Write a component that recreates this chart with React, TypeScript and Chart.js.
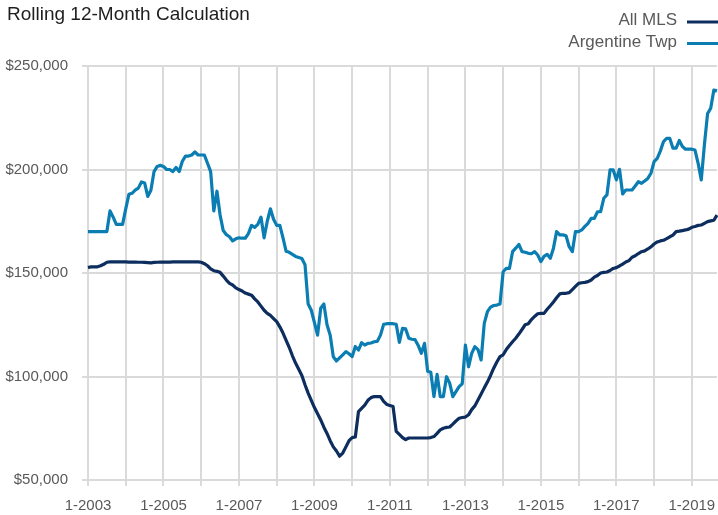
import { useEffect, useRef } from 'react';
import { Chart, registerables } from 'chart.js';

Chart.register(...registerables);

const TITLE = 'Rolling 12-Month Calculation';
const SERIES_NAMES = ['All MLS', 'Argentine Twp'];
const SERIES_COLORS = ['#0c2d5e', '#0a7db2'];

const FIRST_YEAR = 2003;
const LAST_YEAR = 2019;
const LAST_MONTH = 9;

const categories: string[] = [];
for (let y = FIRST_YEAR; y <= LAST_YEAR; y++) {
  for (let m = 1; m <= 12; m++) {
    if (y === LAST_YEAR && m > LAST_MONTH) break;
    categories.push(`${m}-${y}`);
  }
}

const allMLS = [
  // 2003
  152600, 153000, 153000, 153000, 153500, 154200, 155200, 155400, 155400, 155400, 155400, 155400,
  // 2004
  155400, 155300, 155300, 155300, 155200, 155200, 155100, 155000, 154900, 155100, 155200, 155300,
  // 2005
  155300, 155300, 155300, 155400, 155400, 155400, 155400, 155400, 155400, 155400, 155400, 155400,
  // 2006
  155200, 154500, 153500, 152000, 151100, 150800, 150300, 148500, 146600, 145000, 144200, 142800,
  // 2007
  142000, 141300, 140300, 139800, 139300, 137500, 136000, 134000, 132000, 130500, 129500, 128000,
  // 2008
  126500, 124000, 121000, 117500, 114000, 110000, 106500, 103500, 100500, 96000, 92000, 88500,
  // 2009
  85000, 82000, 79000, 75500, 72500, 69000, 66000, 64000, 61500, 63000, 66000, 69000,
  // 2010
  70500, 70800, 83000, 84600, 86200, 88500, 89800, 90300, 90300, 90300, 88000, 86500,
  // 2011
  86000, 85500, 73500, 72000, 70500, 69500, 70300, 70300, 70300, 70300, 70300, 70300,
  // 2012
  70300, 70500, 71000, 72500, 74200, 75000, 75400, 75600, 77000, 78500, 79800, 80200,
  // 2013
  80400, 81500, 84000, 85800, 88600, 91500, 94500, 97300, 100500, 104000, 107000, 109600,
  // 2014
  110500, 113000, 115000, 116800, 118500, 120500, 122700, 125000, 125500, 127500, 129000, 130300,
  // 2015
  130500, 130500, 132500, 134200, 136000, 138000, 139900, 140200, 140200, 140500, 142000, 143500,
  // 2016
  145000, 145300, 145500, 145800, 146600, 148000, 148800, 150000, 150300, 150500, 151200, 152200,
  // 2017
  152600, 153400, 154300, 155300, 156000, 157600, 158300, 159400, 160300, 160700, 161600, 162600,
  // 2018
  164000, 165000, 165500, 165800, 166600, 167500, 168300, 170000, 170200, 170500, 170800, 171200,
  // 2019
  172100, 172500, 173000, 173200, 174000, 174800, 175200, 175500, 178000,
];

const argentineTwp = [
  // 2003
  170000, 170000, 170000, 170000, 170000, 170000, 170000, 180000, 177000, 173500, 173500, 173500,
  // 2004
  181000, 188000, 188500, 190000, 191000, 194000, 193500, 187000, 190000, 199000, 201500, 202000,
  // 2005
  201500, 200000, 200000, 199000, 201000, 199000, 204000, 206500, 206500, 207000, 208500, 207000,
  // 2006
  207000, 207000, 203000, 199000, 180000, 189500, 178000, 170500, 168500, 167500, 165500, 166500,
  // 2007
  167000, 166800, 166800, 169000, 173000, 172000, 173500, 177000, 167000, 175000, 181000, 176000,
  // 2008
  173000, 173000, 167000, 160500, 160000, 159000, 158000, 157500, 157000, 154000, 135000, 132000,
  // 2009
  126000, 120000, 133000, 135000, 125000, 120000, 109500, 107500, 109000, 110500, 112000, 111000,
  // 2010
  109600, 114500, 112800, 116300, 115200, 116000, 116200, 116800, 117000, 120000, 125200, 125500,
  // 2011
  125500, 125500, 125200, 116500, 123300, 123000, 118500, 118000, 117800, 115000, 111200, 116000,
  // 2012
  102500, 102000, 90300, 101000, 90300, 90300, 99900, 96800, 90300, 92700, 95100, 96500,
  // 2013
  115200, 104700, 111200, 114400, 113000, 108000, 125700, 131300, 133500, 134300, 134500, 135000,
  // 2014
  150600, 152200, 152200, 160300, 162000, 163800, 160300, 160000, 159500, 159300, 160300, 158700,
  // 2015
  155500, 158000, 159000, 157100, 162000, 170000, 168400, 168400, 168000, 162700, 160300, 170000,
  // 2016
  170000, 170800, 172500, 174000, 176400, 176400, 179600, 179600, 186100, 187700, 199800, 199800,
  // 2017
  195000, 200100, 188200, 190100, 190100, 190100, 192000, 194100, 193300, 194500, 195700, 198200,
  // 2018
  203800, 205400, 209000, 213500, 215100, 215000, 210300, 210300, 214000, 211100, 209800, 209800,
  // 2019
  209800, 209400, 203000, 195000, 212000, 227000, 229600, 238400, 238000,
];

const Y_MIN = 50000;
const Y_MAX = 250000;
const Y_STEP = 50000;

const FONT = "'Liberation Sans', Arial, sans-serif";
const GRID = '#dadada';
const TEXT = '#595959';

const overlayPlugin = {
  id: 'titleLegend',
  afterDraw(chart: any) {
    const ctx = chart.ctx as CanvasRenderingContext2D;
    ctx.save();
    ctx.fillStyle = '#1e1e1e';
    ctx.font = `19px ${FONT}`;
    ctx.textAlign = 'left';
    ctx.textBaseline = 'alphabetic';
    ctx.fillText(TITLE, 7, 19.5);

    ctx.font = `17px ${FONT}`;
    ctx.textAlign = 'right';
    ctx.textBaseline = 'middle';
    const rows = [20.5, 42];
    SERIES_NAMES.forEach((name, i) => {
      ctx.fillStyle = TEXT;
      ctx.fillText(name, 677, rows[i]);
      ctx.strokeStyle = SERIES_COLORS[i];
      ctx.lineWidth = 3;
      ctx.beginPath();
      ctx.moveTo(687, rows[i] + 1.5);
      ctx.lineTo(718, rows[i] + 1.5);
      ctx.stroke();
    });
    ctx.restore();
  },
};

export default function App() {
  const ref = useRef<HTMLCanvasElement | null>(null);

  useEffect(() => {
    document.body.style.margin = '0';
    const canvas = ref.current;
    if (!canvas) return;
    const chart = new Chart(canvas, {
      type: 'line',
      data: {
        labels: categories,
        datasets: [
          {
            label: SERIES_NAMES[1],
            data: argentineTwp,
            borderColor: SERIES_COLORS[1],
            backgroundColor: SERIES_COLORS[1],
            borderWidth: 3.2,
            pointRadius: 0,
            tension: 0,
            borderJoinStyle: 'round',
          },
          {
            label: SERIES_NAMES[0],
            data: allMLS,
            borderColor: SERIES_COLORS[0],
            backgroundColor: SERIES_COLORS[0],
            borderWidth: 3.2,
            pointRadius: 0,
            tension: 0,
            borderJoinStyle: 'round',
          },
        ],
      },
      options: {
        responsive: false,
        animation: false,
        layout: { padding: { top: 66, left: 0, right: 1, bottom: 0 } },
        plugins: {
          legend: { display: false },
          title: { display: false },
          tooltip: { enabled: false },
        },
        scales: {
          x: {
            type: 'category',
            afterFit: (scale: any) => {
              scale.height = 35;
              scale.paddingLeft = 0;
              scale.paddingRight = 0;
            },
            grid: {
              color: (c: any) => (c.index % 12 === 0 ? GRID : 'rgba(0,0,0,0)'),
              lineWidth: 2,
              tickLength: 6,
            },
            border: { display: true, color: GRID, width: 2 },
            ticks: {
              autoSkip: false,
              maxRotation: 0,
              minRotation: 0,
              padding: 11,
              color: TEXT,
              font: { family: FONT, size: 15 },
              callback: (_v: any, i: number) => (i % 24 === 0 ? categories[i] : ''),
            },
          },
          y: {
            min: Y_MIN,
            max: Y_MAX,
            afterFit: (scale: any) => {
              scale.width = 88;
              scale.paddingTop = 0;
              scale.paddingBottom = 0;
            },
            grid: { color: GRID, lineWidth: 2, tickLength: 6 },
            border: { display: true, color: GRID, width: 2 },
            ticks: {
              stepSize: Y_STEP,
              padding: 14,
              color: TEXT,
              font: { family: FONT, size: 15 },
              callback: (v: any) => '$' + Number(v).toLocaleString('en-US'),
            },
          },
        },
      },
      plugins: [overlayPlugin],
    });
    return () => chart.destroy();
  }, []);

  return (
    <div style={{ width: 718, height: 515 }}>
      <canvas ref={ref} width={718} height={515} />
    </div>
  );
}
